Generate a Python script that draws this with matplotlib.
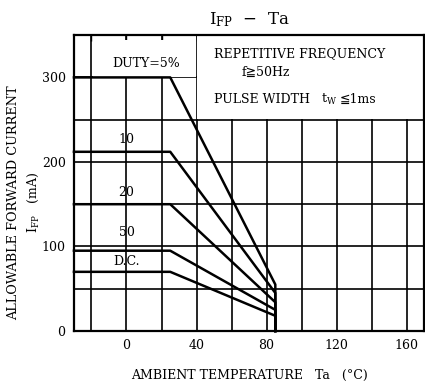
import matplotlib.pyplot as plt
from matplotlib.patches import Rectangle

# Data (IFP vs Ta, by duty ratio)
duty_labels = ['DUTY=5%', '10', '20', '50', 'D.C.']
flat_current = [300, 212, 150, 95, 70]     # mA, up to knee
end_current = [55, 45, 34, 25, 18]         # mA, at Ta = 85
ta_start = -30
ta_knee = 25
ta_end = 85

xticks = [0, 40, 80, 120, 160]
yticks = [0, 100, 200, 300]

serif = ['DejaVu Serif', 'DejaVu Sans']
plt.rcParams['font.family'] = serif
plt.rcParams['mathtext.fontset'] = 'dejavuserif'

fig = plt.figure(figsize=(4.25, 3.82), dpi=100)
ax = fig.add_axes([0.174, 0.1335, 0.824, 0.7745])

ax.set_xlim(-30, 170)
ax.set_ylim(0, 350)

# grid
ax.set_xticks(xticks)
ax.set_xticks([-20, 20, 60, 100, 140], minor=True)
ax.set_yticks(yticks)
ax.set_yticks([50, 150, 250], minor=True)
ax.set_axisbelow(True)
ax.grid(True, which='both', color='black', lw=1.2)
ax.tick_params(which='both', left=False, bottom=False, top=True,
               direction='in', length=4, width=1, pad=6, labelsize=9)

# white boxes behind the notes
ax.add_patch(Rectangle((-19, 300.5), 58.5, 43.5, facecolor='white',
                       edgecolor='none', zorder=1))
ax.add_patch(Rectangle((40.5, 250.8), 130, 99, facecolor='white',
                       edgecolor='none', zorder=1))

# curves
for v, e in zip(flat_current, end_current):
    ax.plot([ta_start, ta_knee, ta_end, ta_end], [v, v, e, 0],
            color='black', lw=1.8, zorder=3, clip_on=False)

# curve labels
label_pos = [(11, 316), (0, 227), (0, 164), (0, 117), (0, 82)]
for txt, (x, y) in zip(duty_labels, label_pos):
    ax.text(x, y, txt, ha='center', va='center', fontsize=9, zorder=4)

ax.text(50, 328, 'REPETITIVE FREQUENCY', ha='left', va='center',
        fontsize=9, zorder=4)
ax.text(65.5, 306, 'f\u226750Hz', ha='left', va='center', fontsize=9,
        zorder=4, family=serif)
ax.text(50, 274, 'PULSE WIDTH', ha='left', va='center', fontsize=9,
        zorder=4)
ax.text(111, 274, 't$_{\\mathrm{W}}$', ha='left', va='center',
        fontsize=9, zorder=4)
ax.text(121.5, 274, '\u22661ms', ha='left', va='center', fontsize=9,
        zorder=4, family=serif)

for s in ax.spines.values():
    s.set_linewidth(1.6)

ax.set_title('I$_{\\mathrm{FP}}$  \u2212  Ta', fontsize=12, pad=8)
ax.set_xlabel('AMBIENT TEMPERATURE   Ta   (\u00b0C)', fontsize=9,
              labelpad=12)

fig.text(0.033, 0.469, 'ALLOWABLE FORWARD CURRENT', rotation=90,
         ha='center', va='center', fontsize=9.3)
fig.text(0.078, 0.469, 'I$_{\\mathrm{FP}}$   (mA)', rotation=90,
         ha='center', va='center', fontsize=9)

fig.savefig('out.png', dpi=100)
